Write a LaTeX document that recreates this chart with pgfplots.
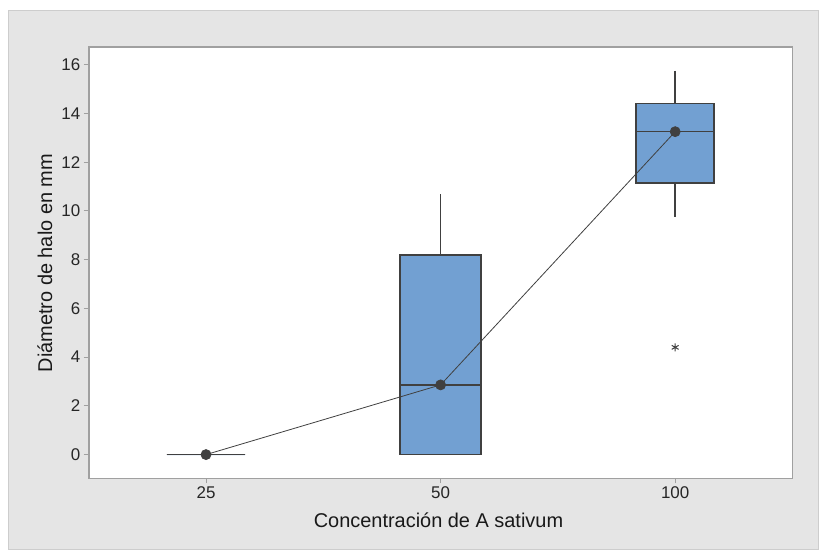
\documentclass[border=0pt]{standalone}
\usepackage{fontspec}
\setmainfont{Liberation Sans}
\usepackage{pgfplots}
\usepgfplotslibrary{statistics}
\pgfplotsset{compat=1.18}
\definecolor{bg}{RGB}{229,229,229}
\definecolor{panelborder}{RGB}{205,205,205}
\definecolor{boxblue}{RGB}{114,160,210}
\definecolor{dk}{RGB}{64,64,64}
\definecolor{framec}{RGB}{160,160,160}
\begin{document}
\begin{tikzpicture}[x=1pt,y=1pt]
\fill[white] (0,0) rectangle (819,549);
\filldraw[fill=bg, draw=panelborder, line width=1.2pt] (8.5,-2) rectangle (821,538.5);
\begin{axis}[
  at={(89pt,69pt)}, anchor=south west,
  scale only axis, width=706pt, height=433pt,
  xmin=-0.5, xmax=2.5, ymin=-0.98, ymax=16.73,
  boxplot/draw direction=y,
  boxplot/every box/.style={line width=1.7pt},
  boxplot/every median/.style={line width=1.7pt},
  boxplot/every whisker/.style={line width=1.5pt},
  axis background/.style={fill=white},
  axis line style={framec, line width=1.6pt},
  xtick={0,1,2}, xticklabels={25,50,100},
  ytick={0,2,...,16},
  tick align=outside, tick pos=left,
  major tick length=5pt,
  tick style={framec, line width=0.9pt},
  /pgf/number format/assume math mode=true,
  ticklabel style={font=\fontsize{17}{17}\selectfont, text=black!85},
  xlabel={Concentración de A sativum},
  ylabel={Diámetro de halo en mm},
  label style={font=\fontsize{20}{20}\selectfont, text=black!90},
  xlabel style={at={(axis description cs:0.497,-0.097)}, anchor=center},
  ylabel style={at={(axis description cs:-0.0623,0.499)}, anchor=center},
]
\addplot[boxplot prepared={draw position=0, lower whisker=0, lower quartile=0, median=0, upper quartile=0, upper whisker=0, box extend=0.333, whisker extend=0}, fill=boxblue, draw=dk] coordinates {};
\addplot[boxplot prepared={draw position=1, lower whisker=0, lower quartile=0, median=2.86, upper quartile=8.18, upper whisker=10.68, box extend=0.345, whisker extend=0}, fill=boxblue, draw=dk] coordinates {};
\addplot[boxplot prepared={draw position=2, lower whisker=9.74, lower quartile=11.13, median=13.26, upper quartile=14.4, upper whisker=15.75, box extend=0.333, whisker extend=0}, fill=boxblue, draw=dk] coordinates {};
\addplot[dk, line width=0.8pt, mark=*, mark size=5pt, mark options={fill=dk, draw=dk}] coordinates {(0,0) (1,2.86) (2,13.25)};
\addplot[only marks, mark=asterisk, mark size=4pt, dk, line width=1pt] coordinates {(2,4.4)};
\end{axis}
\end{tikzpicture}
\end{document}
